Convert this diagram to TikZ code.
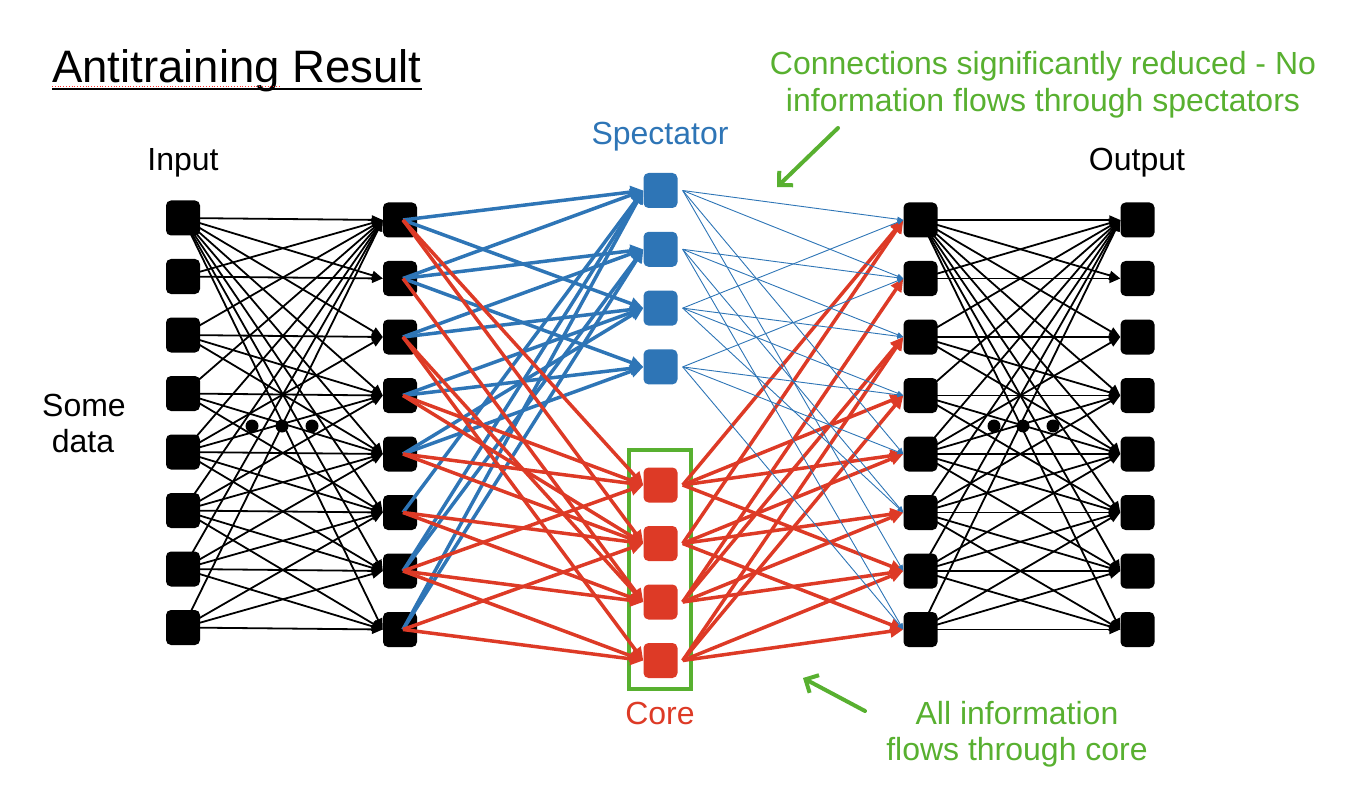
\documentclass[tikz,border=0pt]{standalone}
\usepackage{fontspec}
\setmainfont{Liberation Sans}
\usetikzlibrary{arrows.meta,backgrounds}
\definecolor{nnblue}{RGB}{46,117,182}
\definecolor{nnred}{RGB}{221,58,38}
\definecolor{nngreen}{RGB}{88,176,48}
\begin{document}
\begin{tikzpicture}[x=1pt,y=-1pt,
  unit/.style={rectangle, rounded corners=5pt, minimum width=34pt, minimum height=35pt, inner sep=0pt, draw=none},
  blk/.style={unit, fill=black},
  specbox/.style={unit, fill=nnblue},
  corebox/.style={unit, fill=nnred},
  bline/.style={line width=1.8pt, -{Triangle[length=11pt,width=9pt]}},
  thickblue/.style={nnblue, line width=3.5pt, -{Triangle[length=13pt,width=12pt]}},
  thickred/.style={nnred, line width=3.5pt, -{Triangle[length=13pt,width=12pt]}},
  thinblue/.style={nnblue, line width=0.9pt, -{Triangle[length=6pt,width=5pt]}},
  lbl/.style={font=\fontsize{32}{38}\selectfont, inner sep=0pt, anchor=base},
  dotn/.style={circle, fill=black, minimum size=13pt, inner sep=0pt},
  gar/.style={nngreen, line width=4pt, line cap=round, -{Straight Barb[length=10pt,width=20pt]}}
]
\useasboundingbox (0,0) rectangle (1370,810);

% title
\node[anchor=base west, font=\fontsize{45.5}{54}\selectfont, inner sep=0pt] (title) at (52,83) {Antitraining Result};
\draw[line width=1.6pt] ([yshift=-6pt]title.base west) -- ([yshift=-6pt]title.base east);
\draw[red!80, dotted, line width=0.8pt] ([yshift=-3pt]title.base west) -- ++(228,0);

% labels
\node[lbl] (inlbl) at (183,171) {Input};
\node[lbl] (outlbl) at (1137,171) {Output};
\node[lbl, text=nnblue] (speclbl) at (660,145) {Spectator};
\node[lbl, text=nnred] (corelbl) at (660,724) {Core};
\node[lbl] (some) at (84,416) {Some};
\node[lbl] (data) at (83,452) {data};
\node[lbl, text=nngreen] (gt1) at (1043,75) {Connections significantly reduced - No};
\node[lbl, text=nngreen] (gt2) at (1043,112) {information flows through spectators};
\node[lbl, text=nngreen] (gb1) at (1017,724) {All information};
\node[lbl, text=nngreen] (gb2) at (1017,760) {flows through core};

% nodes
\foreach \i in {1,...,8} {
  \node[blk] (in\i) at (183,{218+58.5*(\i-1)}) {};
  \node[blk] (a\i) at (400,{220+58.5*(\i-1)}) {};
  \node[blk] (b\i) at (920.5,{220+58.5*(\i-1)}) {};
  \node[blk] (o\i) at (1137.5,{220+58.5*(\i-1)}) {};
}
\foreach \i in {1,...,4} {
  \node[specbox] (s\i) at (660.5,{190.5+58.8*(\i-1)}) {};
  \node[corebox] (c\i) at (660.5,{485+58.5*(\i-1)}) {};
}
\node[draw=nngreen, line width=4pt, minimum width=62pt, minimum height=239pt, inner sep=0pt] (corefr) at (660,569.5) {};

% dots
\node[dotn] (dl1) at (252,426) {};
\node[dotn] (dl2) at (282,426) {};
\node[dotn] (dl3) at (312,426) {};
\node[dotn] (dr1) at (994,426) {};
\node[dotn] (dr2) at (1023,426) {};
\node[dotn] (dr3) at (1053,426) {};

% black networks
\begin{pgfonlayer}{background}
\foreach \s/\ts in {1/{1,2,3,4,5,6,7,8},2/{1,2},3/{1,3,4,5},4/{1,4,5,6},5/{1,3,4,5,6,7},6/{1,4,5,6,7,8},7/{1,5,6,7,8},8/{1,6,7,8}} {
  \foreach \t in \ts {
    \draw[bline] (in\s.center) -- (a\t.west);
    \draw[bline] (b\s.center) -- (o\t.west);
  }
}
\end{pgfonlayer}

% blue thick: layer 2 -> spectators
\foreach \s/\ts in {1/{1,3},2/{1,2,4},3/{2,3},4/{3,4},5/{3,4},6/{1},7/{1,2},8/{1,2}} {
  \foreach \t in \ts {
    \draw[thickblue] ([xshift=3pt]a\s.center) -- (s\t.west);
  }
}
% red thick: layer 2 -> core
\foreach \s/\ts in {1/{1,2},2/{3},3/{3,4},4/{1,2},5/{1,2},6/{2,3},7/{1,3,4},8/{2,4}} {
  \foreach \t in \ts {
    \draw[thickred] ([xshift=3pt]a\s.center) -- (c\t.west);
  }
}
% red thick: core -> layer 4
\foreach \s/\ts in {1/{1,4,5,7},2/{1,5,6,8},3/{2,3,6,7},4/{3,4,7,8}} {
  \foreach \t in \ts {
    \draw[thickred] ([xshift=5pt]c\s.east) -- (b\t.west);
  }
}
% thin blue: spectators -> layer 4
\foreach \s/\ts in {1/{1,2,5,7},2/{2,3,6,8},3/{1,3,4,6},4/{2,4,5,8}} {
  \foreach \t in \ts {
    \draw[thinblue] ([xshift=5pt]s\s.east) -- (b\t.west);
  }
}

% green arrows
\coordinate (g1s) at (838,128);
\coordinate (g1e) at (777,187);
\coordinate (g2s) at (865,711);
\coordinate (g2e) at (803,678);
\draw[gar] (g1s) -- (g1e);
\draw[gar] (g2s) -- (g2e);
\end{tikzpicture}
\end{document}
